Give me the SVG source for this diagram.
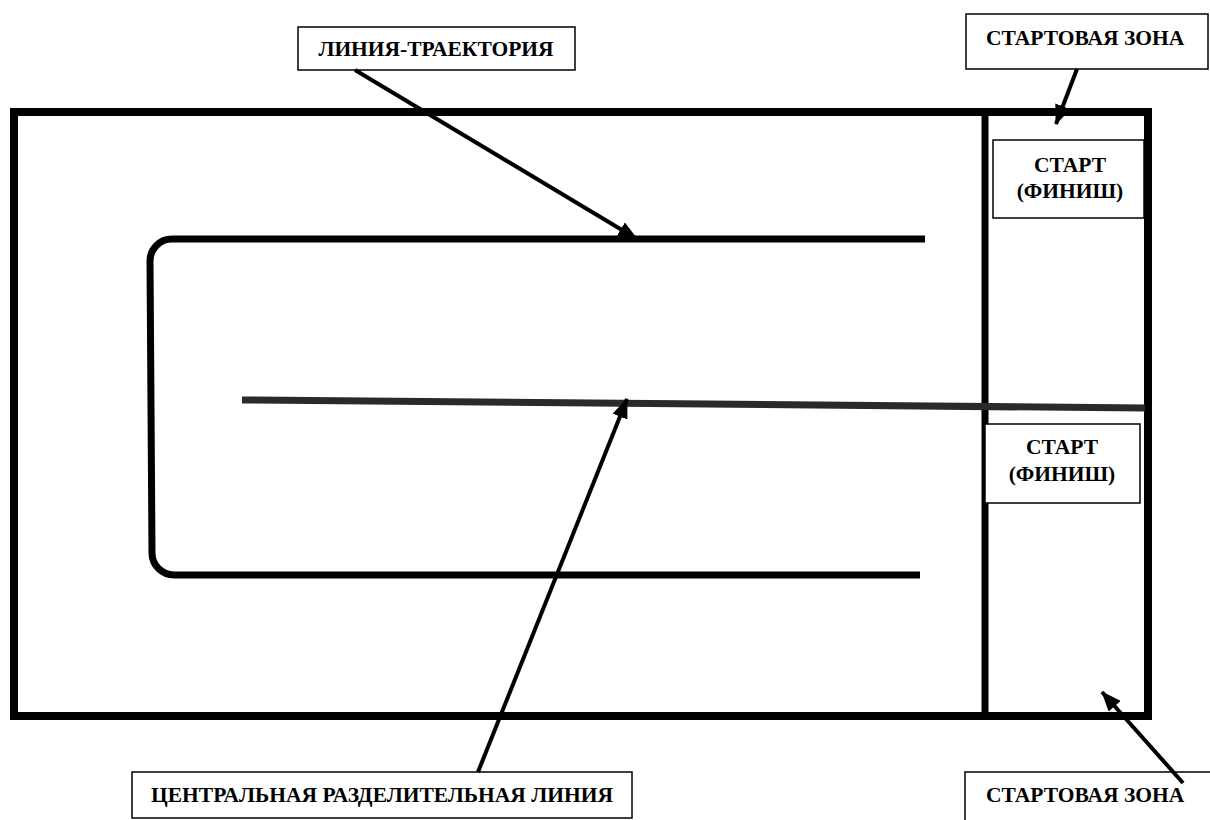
<svg xmlns="http://www.w3.org/2000/svg" width="1210" height="820" viewBox="0 0 1210 820">
  <style>
    .lbl { font-family: "Liberation Serif", "Times New Roman", serif; font-weight: bold; font-size: 21.5px; fill: #000; }
    .box { fill: #fff; stroke: #000; stroke-width: 1.5; }
    .arrow { stroke: #000; stroke-width: 4; fill: none; }
  </style>
  <defs>
    <marker id="ah" markerUnits="userSpaceOnUse" markerWidth="20" markerHeight="16" refX="19" refY="8" orient="auto">
      <path d="M0,0 L20,8 L0,16 z" fill="#000"/>
    </marker>
  </defs>
  <rect x="0" y="0" width="1210" height="820" fill="#fff"/>

  <g id="field">
    <rect x="14" y="112" width="1134" height="604" fill="none" stroke="#000" stroke-width="8"/>
    <line x1="985" y1="112" x2="985" y2="716" stroke="#000" stroke-width="7"/>
  </g>

  <g id="trajectory">
    <path d="M925,239 L172,239 A22,22 0 0 0 150,261 L152,553 A22,22 0 0 0 174,575 L920,575" fill="none" stroke="#000" stroke-width="7"/>
  </g>

  <g id="center-line">
    <line x1="242" y1="400" x2="1145" y2="408" stroke="#2a2a2a" stroke-width="7"/>
  </g>

  <g id="start1">
    <rect class="box" x="993" y="140" width="151" height="78"/>
    <text class="lbl" x="1070" y="172" text-anchor="middle">СТАРТ</text>
    <text class="lbl" x="1070" y="198" text-anchor="middle">(ФИНИШ)</text>
  </g>

  <g id="start2">
    <rect class="box" x="985" y="424" width="155" height="79"/>
    <text class="lbl" x="1062" y="454" text-anchor="middle">СТАРТ</text>
    <text class="lbl" x="1062" y="481" text-anchor="middle">(ФИНИШ)</text>
  </g>

  <g id="label-trajectory">
    <rect class="box" x="298" y="27" width="277" height="43"/>
    <text class="lbl" x="436" y="56" text-anchor="middle">ЛИНИЯ-ТРАЕКТОРИЯ</text>
  </g>

  <g id="label-start-zone-top">
    <rect class="box" x="966" y="14" width="242" height="55"/>
    <text class="lbl" x="986" y="45">СТАРТОВАЯ ЗОНА</text>
  </g>

  <g id="label-start-zone-bottom">
    <rect class="box" x="965" y="772" width="250" height="60"/>
    <text class="lbl" x="986" y="802">СТАРТОВАЯ ЗОНА</text>
  </g>

  <g id="label-center">
    <rect class="box" x="132" y="772" width="500" height="46"/>
    <text class="lbl" x="382" y="802" text-anchor="middle">ЦЕНТРАЛЬНАЯ РАЗДЕЛИТЕЛЬНАЯ ЛИНИЯ</text>
  </g>

  <g id="connectors">
    <line class="arrow" x1="355" y1="70" x2="637" y2="239" marker-end="url(#ah)"/>
    <line class="arrow" x1="1077" y1="69" x2="1056" y2="124" marker-end="url(#ah)"/>
    <line class="arrow" x1="1183" y1="783" x2="1102" y2="692" marker-end="url(#ah)"/>
    <line class="arrow" x1="478" y1="772" x2="627" y2="399" marker-end="url(#ah)"/>
  </g>
</svg>
